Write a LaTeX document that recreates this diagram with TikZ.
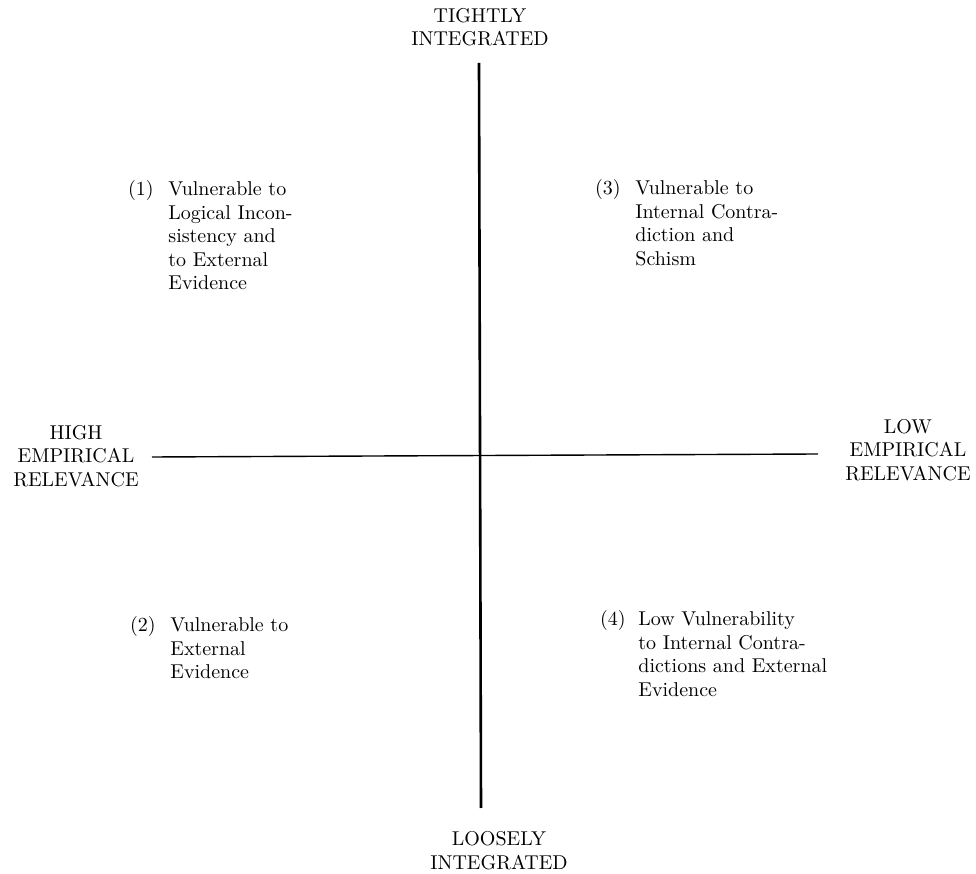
\documentclass[tikz,border=0pt]{standalone}
\usetikzlibrary{positioning}
\newcommand{\figfont}{\fontsize{10}{11.7}\selectfont}

\begin{document}
\begin{tikzpicture}[x=0.5pt,y=0.5pt,
  pole/.style={font=\figfont,align=center,inner sep=0pt},
  cell/.style={font=\figfont,inner sep=0pt,anchor=base west},
  cellnum/.style={font=\figfont,inner sep=0pt,anchor=base east}]
\useasboundingbox (0,0) rectangle (976,874);
% pole labels at the four ends of the axes
\node[pole] (tight) at (480,847) {TIGHTLY\\INTEGRATED};
\node[pole] (loose) at (499,23.5) {LOOSELY\\INTEGRATED};
\node[pole] (high) at (76,418) {HIGH\\EMPIRICAL\\RELEVANCE};
\node[pole] (low) at (908,424) {LOW\\EMPIRICAL\\RELEVANCE};
% axis ends (lines stop short of the labels)
\coordinate (nend) at (479,811);
\coordinate (send) at (481,66);
\coordinate (wend) at (152,417);
\coordinate (eend) at (818,420);
\draw[line width=1.3pt] (nend) -- (send);
\draw[line width=0.7pt] (wend) -- (eend);
% quadrant cells: number hangs left of the text block
\foreach \n/\cx/\cy/\gap/\body in {%
  1/168/678/7/{Vulnerable to\\Logical Incon-\\sistency and\\to External\\Evidence},%
  2/170/242/7/{Vulnerable to\\External\\Evidence},%
  3/635/679/7/{Vulnerable to\\Internal Contra-\\diction and\\Schism},%
  4/638/248/6/{Low Vulnerability\\to Internal Contra-\\dictions and External\\Evidence}}{
  \node[cell] (q\n) at (\cx,\cy) {\begin{tabular}[t]{@{}l@{}}\body\end{tabular}};
  \node[cellnum] (n\n) at ([xshift=-\gap pt]q\n.base west) {(\n)};
}
\end{tikzpicture}
\end{document}
